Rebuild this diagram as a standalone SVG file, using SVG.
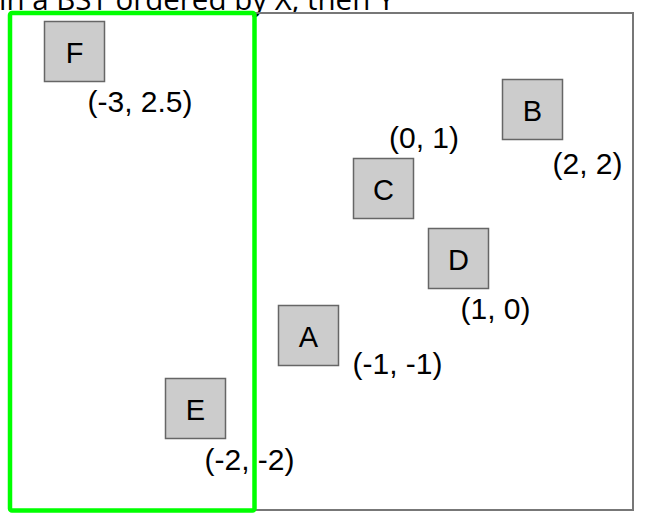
<svg xmlns="http://www.w3.org/2000/svg" width="658" height="532" viewBox="0 0 658 532">
<style>
.title{font-family:"Open Sans","DejaVu Sans",sans-serif;font-size:29.5px;fill:#000}
.box{fill:#cccccc;stroke:#666666;stroke-width:1.5}
.name{font-family:"Liberation Sans",Arial,sans-serif;font-size:29px;fill:#000;text-anchor:middle}
.coord{font-family:"Liberation Sans",Arial,sans-serif;font-size:30px;fill:#000;text-anchor:middle}
</style>
<rect width="658" height="532" fill="#ffffff"/>
<text class="title" x="-1" y="10">in a BST ordered by X, then Y</text>
<rect id="frame" x="10" y="13" width="623" height="497" fill="none" stroke="#777777" stroke-width="2"/>
<g id="connectors"></g>
<g id="node-F"><rect class="box" x="44.5" y="21.5" width="60" height="60"/><text class="name" x="74.5" y="62.5">F</text><text class="coord" x="140" y="112">(-3, 2.5)</text></g>
<g id="node-B"><rect class="box" x="502.5" y="79.5" width="60" height="60"/><text class="name" x="532.5" y="120.5">B</text><text class="coord" x="587.5" y="174">(2, 2)</text></g>
<g id="node-C"><rect class="box" x="353.5" y="158.5" width="60" height="60"/><text class="name" x="383.5" y="199.5">C</text><text class="coord" x="424" y="148">(0, 1)</text></g>
<g id="node-D"><rect class="box" x="428.5" y="228.5" width="60" height="60"/><text class="name" x="458.5" y="269.5">D</text><text class="coord" x="495.5" y="319">(1, 0)</text></g>
<g id="node-A"><rect class="box" x="278.5" y="305.5" width="60" height="60"/><text class="name" x="308.5" y="346.5">A</text><text class="coord" x="397.5" y="374">(-1, -1)</text></g>
<g id="node-E"><rect class="box" x="165.5" y="378.5" width="60" height="60"/><text class="name" x="195.5" y="419.5">E</text><text class="coord" x="249.5" y="470">(-2, -2)</text></g>
<rect id="query" x="10" y="13" width="244.5" height="497.5" rx="2" fill="none" stroke="#00ff00" stroke-width="4.5"/>
</svg>
